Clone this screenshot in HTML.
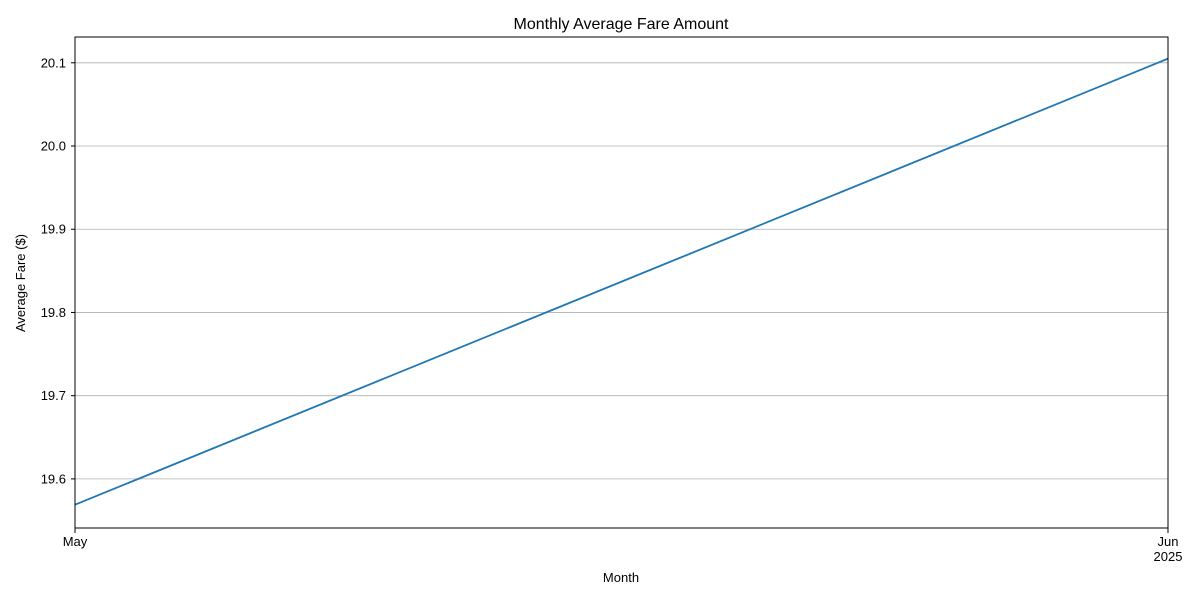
<!DOCTYPE html>
<html><head><meta charset="utf-8"><style>
body{margin:0;background:#fff;}
svg text{font-family:"Liberation Sans","DejaVu Sans",sans-serif;fill:#000;}
</style></head><body>
<svg id="chart" width="1200" height="600">
<rect width="1200" height="600" fill="#fff"/>
<text x="621" y="29" font-size="16" text-anchor="middle">Monthly Average Fare Amount</text>
<g id="grid"></g>
<g id="ticks"></g>
<polyline id="line" fill="none" stroke="#1f77b4" stroke-width="1.8"/>
<rect x="75" y="37" width="1093" height="491" fill="none" stroke="#000" stroke-width="1"/>
<text x="621" y="582" font-size="13" text-anchor="middle">Month</text>
<text transform="translate(25,283) rotate(-90)" font-size="13" text-anchor="middle">Average Fare ($)</text>
</svg>
<script>
const months = ["May", "Jun"];
const monthSub = ["", "2025"];
const fares = [19.569, 20.105];
const yTicks = [19.6, 19.7, 19.8, 19.9, 20.0, 20.1];
const yTickLabels = ["19.6", "19.7", "19.8", "19.9", "20.0", "20.1"];

const L=75,R=1168,T=37,B=528,yMin=19.541,yMax=20.131;
const xs=i=>L+(R-L)*i/(months.length-1);
const ys=v=>B-(v-yMin)/(yMax-yMin)*(B-T);
const NS="http://www.w3.org/2000/svg";
const grid=document.getElementById('grid'),ticks=document.getElementById('ticks');
yTicks.forEach((v,i)=>{
  const y=ys(v);
  const g=document.createElementNS(NS,'line');
  g.setAttribute('x1',L);g.setAttribute('x2',R);g.setAttribute('y1',y);g.setAttribute('y2',y);
  g.setAttribute('stroke','#b0b0b0');g.setAttribute('stroke-width','0.8');
  
  
  grid.appendChild(g);
  const tk=document.createElementNS(NS,'line');
  tk.setAttribute('x1',L-4);tk.setAttribute('x2',L);tk.setAttribute('y1',y);tk.setAttribute('y2',y);
  tk.setAttribute('stroke','#000');
  
  
  ticks.appendChild(tk);
  const t=document.createElementNS(NS,'text');
  t.setAttribute('x',L-9);t.setAttribute('y',y+4.5);t.setAttribute('font-size','13');t.setAttribute('text-anchor','end');
  t.textContent=yTickLabels[i];
  
  
  ticks.appendChild(t);
});
months.forEach((m,i)=>{
  const x=xs(i);
  const tk=document.createElementNS(NS,'line');
  tk.setAttribute('x1',x);tk.setAttribute('x2',x);tk.setAttribute('y1',B);tk.setAttribute('y2',B+5);
  tk.setAttribute('stroke','#000');
  
  
  ticks.appendChild(tk);
  const t=document.createElementNS(NS,'text');
  t.setAttribute('x',x);t.setAttribute('y',B+18);t.setAttribute('font-size','13');t.setAttribute('text-anchor','middle');
  t.textContent=m;
  
  
  ticks.appendChild(t);
  if(monthSub[i]){
    const s=document.createElementNS(NS,'text');
    s.setAttribute('x',x);s.setAttribute('y',B+33);s.setAttribute('font-size','13');s.setAttribute('text-anchor','middle');
    s.textContent=monthSub[i];
    
    
    ticks.appendChild(s);
  }
});
document.getElementById('line').setAttribute('points',fares.map((v,i)=>xs(i)+','+ys(v)).join(' '));
</script>
</body></html>
